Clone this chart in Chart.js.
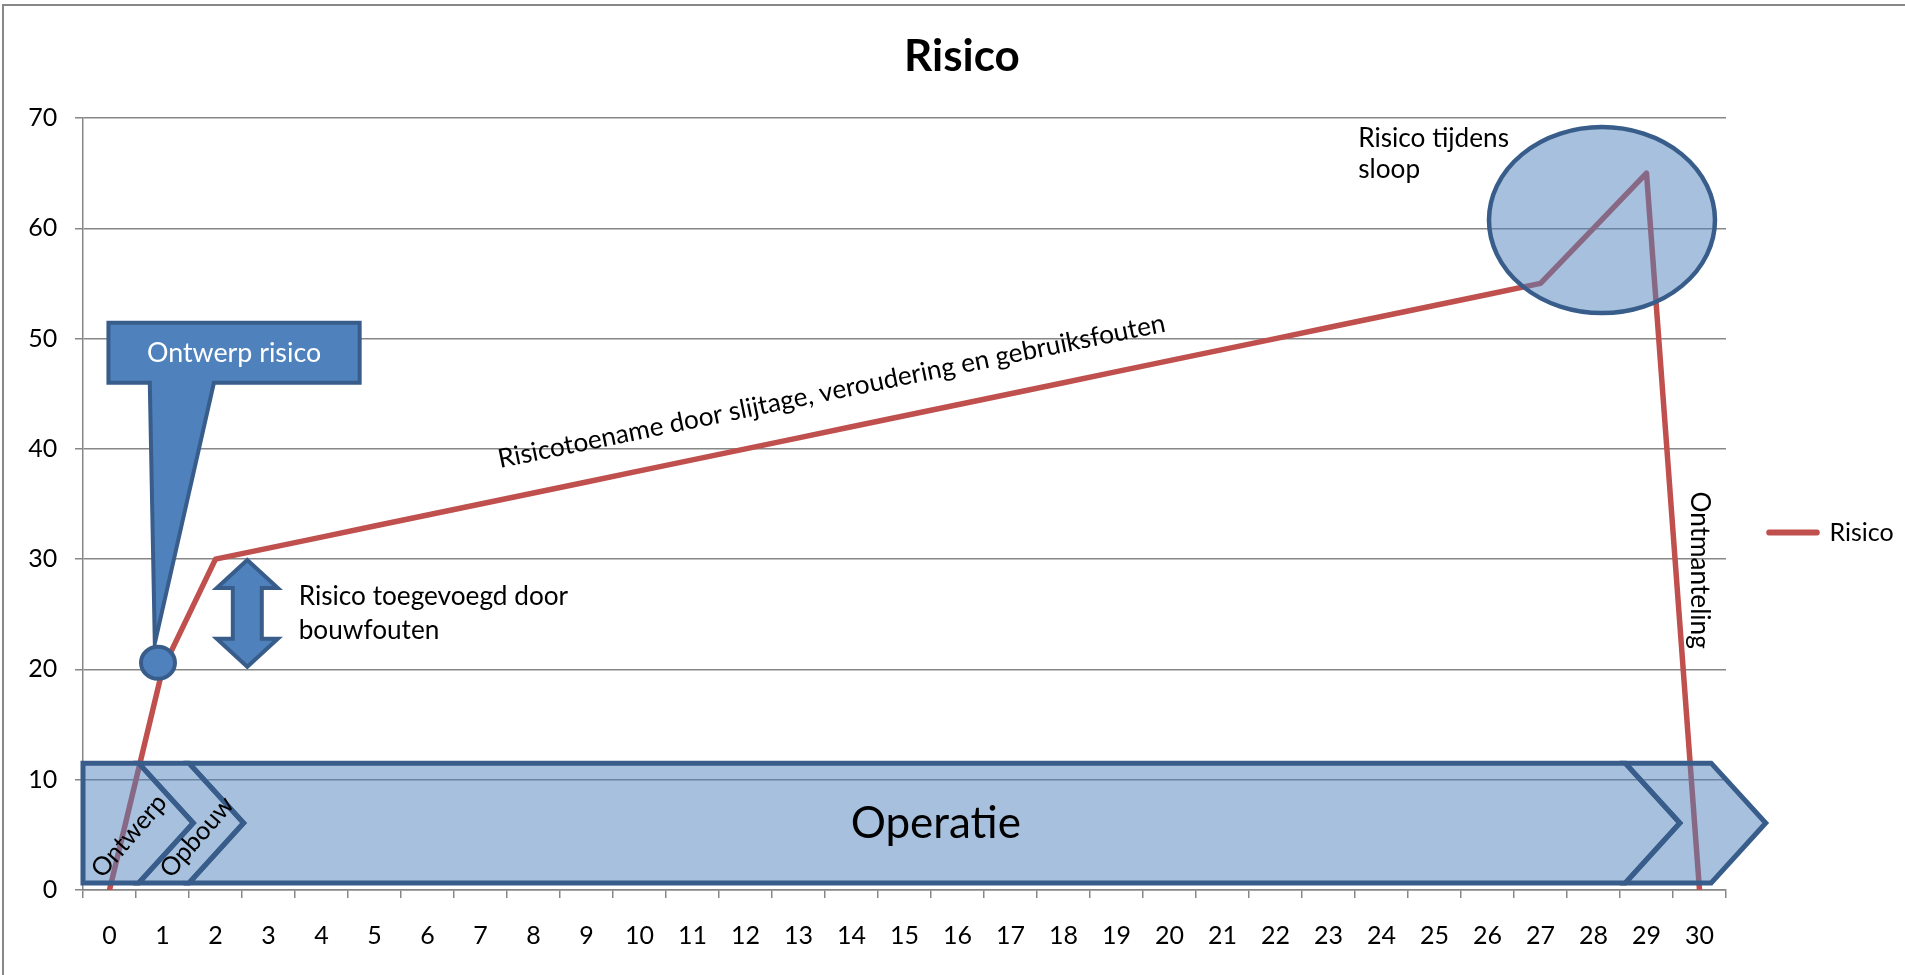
<!DOCTYPE html>
<html>
<head>
<meta charset="utf-8">
<title>Risico</title>
<script src="https://cdn.jsdelivr.net/npm/chart.js@4.4.1/dist/chart.umd.min.js"></script>
<style>
  html, body { margin: 0; padding: 0; background: #fff; }
  #wrap { width: 1905px; height: 975px; }
</style>
</head>
<body>
<div id="wrap"><canvas id="risicoChart" width="1905" height="975"></canvas></div>
<script>
// ---- data ----
const YEARS = ['0', '1', '2', '3', '4', '5', '6', '7', '8', '9', '10', '11', '12', '13', '14', '15',
               '16', '17', '18', '19', '20', '21', '22', '23', '24', '25', '26', '27', '28', '29', '30'];
const RISICO = [0, 20, 30, 31, 32, 33, 34, 35, 36, 37, 38, 39, 40, 41, 42, 43,
                44, 45, 46, 47, 48, 49, 50, 51, 52, 53, 54, 55, 60, 65, 0];
const Y_TICKS = [0, 10, 20, 30, 40, 50, 60, 70];

const FONT = 'Lato, "Liberation Sans", sans-serif';
const GRID = '#878787';
const RED = '#C0504D';
const BLUE = '#4F81BD';
const BLUE_HALF = 'rgba(79, 129, 189, 0.5)';
const OUTLINE = '#385D8A';
const NOTE = 26.2;   // annotation text size

// phase chevrons along the bottom (axis units)
const BAR_TOP = 11.5, BAR_BOTTOM = 0.63, BAR_MID = 6.07, DEPTH = 1.03;
const PHASES = [
    { start: 1.5, end: 28.6, notch: true },    // Operatie
    { start: 28.6, end: 30.22, notch: true },  // einde
    { start: 0.55, end: 1.5, notch: true },    // Opbouw
    { start: -0.5, end: 0.55, notch: false }   // Ontwerp
];

// legend width is set by the text, so work out the right padding from it
const LEGEND_FONT = 25;
const LEGEND_BOX = 48, LEGEND_PAD = 43;
const legendTextWidth = (() => {
    const c = document.createElement('canvas').getContext('2d');
    c.font = LEGEND_FONT + 'px ' + FONT;
    return c.measureText('Risico').width;
})();
const PAD_RIGHT = Math.max(0, 1905 - 1726 - (LEGEND_PAD + LEGEND_BOX + LEGEND_FONT / 2 + legendTextWidth + 10));

function drawText(ctx, str, x, y, o) {
    ctx.save();
    ctx.translate(x, y);
    if (o.rotate) ctx.rotate(o.rotate * Math.PI / 180);
    ctx.font = (o.weight || 'normal') + ' ' + o.size + 'px ' + FONT;
    ctx.fillStyle = o.color || '#000';
    ctx.textAlign = o.align || 'left';
    ctx.textBaseline = o.baseline || 'alphabetic';
    ctx.fillText(str, 0, 0);
    ctx.restore();
}

function polygon(ctx, pts, fill, stroke, width) {
    ctx.beginPath();
    pts.forEach((p, i) => i ? ctx.lineTo(p[0], p[1]) : ctx.moveTo(p[0], p[1]));
    ctx.closePath();
    ctx.fillStyle = fill;
    ctx.fill();
    ctx.lineWidth = width;
    ctx.strokeStyle = stroke;
    ctx.lineJoin = 'miter';
    ctx.stroke();
}

const annotations = {
    id: 'annotations',
    beforeDraw(chart) {
        const ctx = chart.ctx;
        ctx.save();
        ctx.fillStyle = '#fff';
        ctx.fillRect(0, 0, chart.width, chart.height);
        ctx.strokeStyle = GRID;
        ctx.lineWidth = 2;
        ctx.strokeRect(3, 5, chart.width + 10, chart.height + 10);
        ctx.restore();
    },
    afterDatasetsDraw(chart) {
        const ctx = chart.ctx;
        const sx = v => chart.scales.x.getPixelForValue(v);
        const sy = v => chart.scales.y.getPixelForValue(v);
        ctx.save();

        // chevrons
        PHASES.forEach(p => {
            const pts = [
                [sx(p.start), sy(BAR_TOP)], [sx(p.end), sy(BAR_TOP)],
                [sx(p.end + DEPTH), sy(BAR_MID)],
                [sx(p.end), sy(BAR_BOTTOM)], [sx(p.start), sy(BAR_BOTTOM)]
            ];
            if (p.notch) pts.push([sx(p.start + DEPTH), sy(BAR_MID)]);
            polygon(ctx, pts, BLUE_HALF, OUTLINE, 5);
        });
        drawText(ctx, 'Operatie', sx(15.59), sy(4.71), { size: 44, align: 'center' });
        drawText(ctx, 'Ontwerp', sx(0.37), sy(4.9), { size: 25.5, align: 'center', baseline: 'middle', rotate: -49 });
        drawText(ctx, 'Opbouw', sx(1.65), sy(4.8), { size: 25.5, align: 'center', baseline: 'middle', rotate: -49 });

        // sloop ellipse
        ctx.beginPath();
        ctx.ellipse(sx(28.16), sy(60.74), 113, 93, 0, 0, Math.PI * 2);
        ctx.fillStyle = BLUE_HALF;
        ctx.fill();
        ctx.lineWidth = 4.5;
        ctx.strokeStyle = OUTLINE;
        ctx.stroke();

        // callout "Ontwerp risico"
        const l = sx(-0.02), r = sx(4.72), t = sy(51.43), b = sy(46.0);
        polygon(ctx, [[l, t], [r, t], [r, b], [sx(1.97), b], [sx(0.855), sy(22.36)], [sx(0.76), b], [l, b]],
            BLUE, OUTLINE, 4);
        drawText(ctx, 'Ontwerp risico', sx(2.35), sy(47.9), { size: 26.8, align: 'center', color: '#fff' });

        // marker circle
        ctx.beginPath();
        ctx.ellipse(sx(0.915), sy(20.6), 17, 16, 0, 0, Math.PI * 2);
        ctx.fillStyle = BLUE;
        ctx.fill();
        ctx.lineWidth = 4;
        ctx.strokeStyle = OUTLINE;
        ctx.stroke();

        // up-down arrow
        const cx = sx(2.6), yt = sy(29.92), yb = sy(20.24), hw = 30.5, sw = 14.5, hl = 28;
        polygon(ctx, [
            [cx, yt], [cx + hw, yt + hl], [cx + sw, yt + hl], [cx + sw, yb - hl], [cx + hw, yb - hl],
            [cx, yb], [cx - hw, yb - hl], [cx - sw, yb - hl], [cx - sw, yt + hl], [cx - hw, yt + hl]
        ], BLUE, OUTLINE, 4);

        // text boxes
        drawText(ctx, 'Risico toegevoegd door', sx(3.57), sy(25.84), { size: NOTE });
        drawText(ctx, 'bouwfouten', sx(3.57), sy(22.8), { size: NOTE });
        drawText(ctx, 'Risico tijdens', sx(23.56), sy(67.4), { size: NOTE });
        drawText(ctx, 'sloop', sx(23.56), sy(64.55), { size: NOTE });
        drawText(ctx, 'Risicotoename door slijtage, veroudering en gebruiksfouten', sx(7.37), sy(38.26),
            { size: NOTE, rotate: -11.6 });
        drawText(ctx, 'Ontmanteling', sx(29.99), sy(29.0), { size: NOTE, align: 'center', baseline: 'middle', rotate: 90 });

        ctx.restore();
    }
};

new Chart(document.getElementById('risicoChart'), {
    type: 'line',
    data: {
        labels: YEARS,
        datasets: [{
            label: 'Risico',
            data: RISICO,
            borderColor: RED,
            backgroundColor: RED,
            borderWidth: 5.5,
            borderCapStyle: 'round',
            borderJoinStyle: 'round',
            pointRadius: 0,
            tension: 0
        }]
    },
    options: {
        responsive: false,
        animation: false,
        layout: { padding: { left: 20, right: PAD_RIGHT, top: 0, bottom: 0 } },
        plugins: {
            title: {
                display: true,
                text: 'Risico',
                color: '#000',
                font: { family: FONT, size: 44, weight: 'bold', lineHeight: 1.2 },
                padding: { top: 30, bottom: 35.2 }
            },
            legend: {
                position: 'right',
                title: { display: true, text: '', font: { size: 10, lineHeight: 1.2 }, padding: { top: 78, bottom: 0 } },
                labels: {
                    boxWidth: LEGEND_BOX,
                    boxHeight: 0.5,
                    padding: LEGEND_PAD,
                    color: '#000',
                    font: { family: FONT, size: LEGEND_FONT }
                }
            },
            tooltip: { enabled: false }
        },
        scales: {
            x: {
                type: 'category',
                offset: true,
                grid: { offset: true, drawOnChartArea: false, drawTicks: true, tickLength: 8, color: GRID, lineWidth: 1.5 },
                border: { color: GRID, width: 1.5 },
                ticks: { autoSkip: false, maxRotation: 0, padding: 23, color: '#000', font: { family: FONT, size: 25 } },
                afterFit: s => { s.height = 85; }
            },
            y: {
                min: Y_TICKS[0],
                max: Y_TICKS[Y_TICKS.length - 1],
                afterBuildTicks: s => { s.ticks = Y_TICKS.map(v => ({ value: v })); },
                grid: { color: GRID, lineWidth: 1.5, tickLength: 8 },
                border: { color: GRID, width: 1.5 },
                ticks: { padding: 17.7, color: '#000', font: { family: FONT, size: 25 } },
                afterFit: s => { s.width = 63; }
            }
        }
    },
    plugins: [annotations]
});
</script>
</body>
</html>
